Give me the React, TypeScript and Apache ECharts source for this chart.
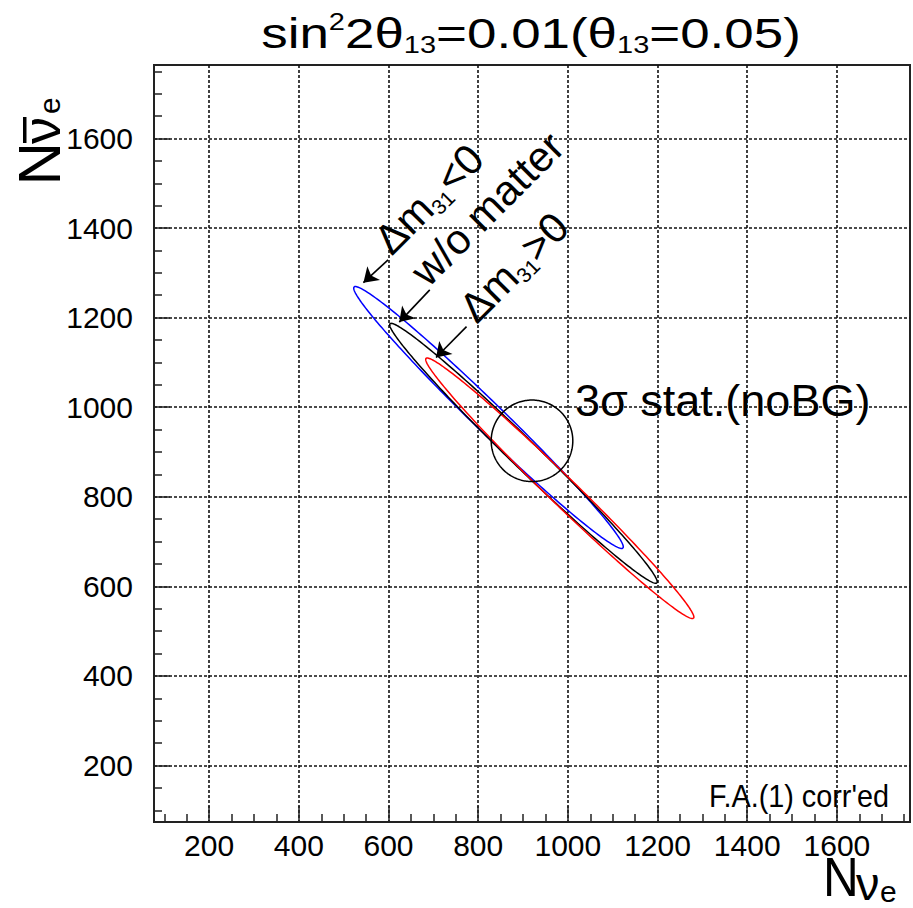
import React, { useEffect, useRef } from 'react';
import * as echarts from 'echarts';

const FONT = '"Liberation Sans", Arial, Helvetica, sans-serif';

// Axis ranges and tick values
const X_MIN = 77;
const X_MAX = 1763;
const Y_MIN = 74;
const Y_MAX = 1764;
const X_TICKS = [200, 400, 600, 800, 1000, 1200, 1400, 1600];
const Y_TICKS = [200, 400, 600, 800, 1000, 1200, 1400, 1600];
const X_MINOR_TICKS = [
  100, 150, 250, 300, 350, 450, 500, 550, 650, 700, 750, 850, 900, 950,
  1050, 1100, 1150, 1250, 1300, 1350, 1450, 1500, 1550, 1650, 1700, 1750,
];
const Y_MINOR_TICKS = [
  100, 150, 250, 300, 350, 450, 500, 550, 650, 700, 750, 850, 900, 950,
  1050, 1100, 1150, 1250, 1300, 1350, 1450, 1500, 1550, 1650, 1700, 1750,
];

// Allowed regions (ellipses): centre, semi-axes and tilt, in event counts
const CONTOUR_NAMES = ['Δm31<0', 'w/o matter', 'Δm31>0'];
const CONTOUR_COLORS = ['#0000ff', '#000000', '#ff0000'];
const CONTOUR_CX = [823, 901, 982];
const CONTOUR_CY = [977, 897, 819];
const CONTOUR_A = [418, 415, 416];
const CONTOUR_B = [33, 31, 31];
const CONTOUR_ANGLE = [-44.2, -44.2, -44.2];

// 3 sigma statistical circle around the true point
const STAT_CX = 920;
const STAT_CY = 925;
const STAT_R = 91;

// Arrows from the labels to the contour tips
const ARROW_FROM = [
  [599, 1329],
  [692, 1262],
  [774, 1180],
];
const ARROW_TO = [
  [544, 1278],
  [624, 1190],
  [706, 1111],
];

function ellipseItem(params: any, api: any) {
  const cx = api.value(0);
  const cy = api.value(1);
  const a = api.value(2);
  const b = api.value(3);
  const ang = (api.value(4) * Math.PI) / 180;
  const pts: number[][] = [];
  const n = 240;
  for (let i = 0; i <= n; i++) {
    const t = (i / n) * 2 * Math.PI;
    const dx = a * Math.cos(t);
    const dy = b * Math.sin(t);
    pts.push(
      api.coord([
        cx + dx * Math.cos(ang) - dy * Math.sin(ang),
        cy + dx * Math.sin(ang) + dy * Math.cos(ang),
      ])
    );
  }
  return {
    type: 'polyline',
    shape: { points: pts },
    style: { stroke: api.visual('color'), fill: 'none', lineWidth: 1.5 },
  };
}

const tickLine = { color: '#222', width: 1.5 };
const gridLine = { type: [3, 2], color: '#111', width: 1.6 };

function buildOption(): any {
  const contourSeries = CONTOUR_NAMES.map((name, i) => ({
    type: 'custom',
    name,
    xAxisIndex: 0,
    yAxisIndex: 0,
    color: CONTOUR_COLORS[i],
    itemStyle: { color: CONTOUR_COLORS[i] },
    renderItem: ellipseItem,
    encode: { x: 0, y: 1 },
    data: [[CONTOUR_CX[i], CONTOUR_CY[i], CONTOUR_A[i], CONTOUR_B[i], CONTOUR_ANGLE[i]]],
    silent: true,
    z: 3,
  }));

  const statSeries = {
    type: 'custom',
    name: '3σ stat.(noBG)',
    xAxisIndex: 0,
    yAxisIndex: 0,
    color: '#000',
    itemStyle: { color: '#000' },
    renderItem: ellipseItem,
    encode: { x: 0, y: 1 },
    data: [[STAT_CX, STAT_CY, STAT_R, STAT_R, 0]],
    silent: true,
    z: 4,
  };

  const arrowSeries = {
    type: 'lines',
    coordinateSystem: 'cartesian2d',
    xAxisIndex: 0,
    yAxisIndex: 0,
    symbol: ['none', 'arrow'],
    symbolSize: 14,
    lineStyle: { color: '#000', width: 1.6, opacity: 1 },
    itemStyle: { color: '#000' },
    data: ARROW_FROM.map((f, i) => ({ coords: [f, ARROW_TO[i]] })),
    silent: true,
    z: 5,
  };

  const rotLabel = (text: string, x: number, y: number) => ({
    type: 'text',
    x,
    y,
    rotation: Math.PI / 4,
    style: {
      text,
      textAlign: 'left',
      textVerticalAlign: 'middle',
      fill: '#000',
      rich: {
        m: { fontSize: 42, lineHeight: 46, fontFamily: FONT, fill: '#000' },
        s: { fontSize: 21, lineHeight: 23, fontFamily: FONT, fill: '#000', verticalAlign: 'bottom' },
      },
    },
    z: 10,
  });

  return {
    animation: false,
    backgroundColor: '#ffffff',
    grid: {
      left: 154,
      top: 65,
      right: 3,
      bottom: 86,
      show: true,
      borderColor: '#222',
      borderWidth: 2,
      backgroundColor: 'transparent',
      containLabel: false,
    },
    xAxis: [
      {
        type: 'value',
        min: X_MIN,
        max: X_MAX,
        position: 'bottom',
        axisLine: { show: true, onZero: false, lineStyle: { color: '#222', width: 2 } },
        axisTick: { show: true, inside: true, length: 16, customValues: X_TICKS, lineStyle: tickLine },
        axisLabel: {
          customValues: X_TICKS,
          margin: 8,
          fontSize: 30,
          fontFamily: FONT,
          color: '#000',
          formatter: (v: number) => String(v),
        },
        splitLine: { show: true, lineStyle: gridLine },
      },
      {
        type: 'value',
        min: X_MIN,
        max: X_MAX,
        position: 'bottom',
        gridIndex: 0,
        axisLine: { show: false },
        axisLabel: { show: false },
        splitLine: { show: false },
        axisTick: { show: true, inside: true, length: 8, customValues: X_MINOR_TICKS, lineStyle: tickLine },
      },
    ],
    yAxis: [
      {
        type: 'value',
        min: Y_MIN,
        max: Y_MAX,
        position: 'left',
        axisLine: { show: true, onZero: false, lineStyle: { color: '#222', width: 2 } },
        axisTick: { show: true, inside: true, length: 16, customValues: Y_TICKS, lineStyle: tickLine },
        axisLabel: {
          customValues: Y_TICKS,
          margin: 21,
          fontSize: 30,
          fontFamily: FONT,
          color: '#000',
          formatter: (v: number) => String(v),
        },
        splitLine: { show: true, lineStyle: gridLine },
      },
      {
        type: 'value',
        min: Y_MIN,
        max: Y_MAX,
        position: 'left',
        gridIndex: 0,
        axisLine: { show: false },
        axisLabel: { show: false },
        splitLine: { show: false },
        axisTick: { show: true, inside: true, length: 8, customValues: Y_MINOR_TICKS, lineStyle: tickLine },
      },
    ],
    series: [...contourSeries, statSeries, arrowSeries],
    graphic: [
      // title
      {
        type: 'text',
        x: 531,
        y: 33.4,
        scaleX: 1.26,
        style: {
          text: '{m|sin}{p|2}{m|2θ}{b|13}{m|=0.01(θ}{b|13}{m|=0.05)}',
          textAlign: 'center',
          textVerticalAlign: 'middle',
          fill: '#000',
          rich: {
            m: { fontSize: 42, lineHeight: 46, fontFamily: FONT, fill: '#000' },
            p: { fontSize: 23, lineHeight: 31, fontFamily: FONT, fill: '#000', verticalAlign: 'top' },
            b: { fontSize: 23, lineHeight: 31, fontFamily: FONT, fill: '#000', verticalAlign: 'bottom' },
          },
        },
      },
      // x-axis title: N nu_e
      {
        type: 'text',
        x: 823,
        y: 877.5,
        scaleX: 0.9,
        style: {
          text: 'N',
          fontSize: 55,
          fontFamily: FONT,
          fill: '#000',
          textAlign: 'left',
          textVerticalAlign: 'middle',
        },
      },
      {
        type: 'text',
        x: 856,
        y: 883,
        style: {
          text: 'ν',
          fontSize: 47,
          fontFamily: FONT,
          fill: '#000',
          textAlign: 'left',
          textVerticalAlign: 'middle',
        },
      },
      {
        type: 'text',
        x: 880,
        y: 891.5,
        style: {
          text: 'e',
          fontSize: 30,
          fontFamily: FONT,
          fill: '#000',
          textAlign: 'left',
          textVerticalAlign: 'middle',
        },
      },
      // y-axis title: N anti-nu_e (rotated)
      {
        type: 'text',
        x: 39.2,
        y: 185.6,
        rotation: Math.PI / 2,
        style: { text: 'N', fontSize: 60, fontFamily: FONT, fill: '#000', textAlign: 'left', textVerticalAlign: 'middle' },
      },
      {
        type: 'text',
        x: 41.3,
        y: 144,
        rotation: Math.PI / 2,
        style: { text: 'ν', fontSize: 54, fontFamily: FONT, fill: '#000', textAlign: 'left', textVerticalAlign: 'middle' },
      },
      {
        type: 'rect',
        shape: { x: 23, y: 117, width: 3.5, height: 26 },
        style: { fill: '#000' },
      },
      {
        type: 'text',
        x: 49.6,
        y: 114,
        rotation: Math.PI / 2,
        style: { text: 'e', fontSize: 30, fontFamily: FONT, fill: '#000', textAlign: 'left', textVerticalAlign: 'middle' },
      },
      // annotations
      rotLabel('{m|Δm}{s|31}{m|<0}', 381.4, 246.4),
      rotLabel('{m|w/o matter}', 418, 278),
      rotLabel('{m|Δm}{s|31}{m|>0}', 466.4, 314.7),
      {
        type: 'text',
        x: 575,
        y: 400.8,
        style: { text: '3σ stat.(noBG)', fontSize: 45, fontFamily: FONT, fill: '#000', textAlign: 'left', textVerticalAlign: 'middle' },
        z: 10,
      },
      {
        type: 'text',
        x: 889,
        y: 795.6,
        scaleX: 0.9,
        style: { text: "F.A.(1) corr'ed", fontSize: 32, fontFamily: FONT, fill: '#000', textAlign: 'right', textVerticalAlign: 'middle' },
        z: 10,
      },
    ],
  };
}

export default function App() {
  const ref = useRef<HTMLDivElement>(null);
  useEffect(() => {
    if (!ref.current) return;
    const chart = echarts.init(ref.current, null, { renderer: 'svg' });
    chart.setOption(buildOption());
    return () => chart.dispose();
  }, []);
  return (
    <div
      ref={ref}
      style={{ position: 'absolute', left: 0, top: 0, width: 913, height: 908, background: '#fff' }}
    />
  );
}
